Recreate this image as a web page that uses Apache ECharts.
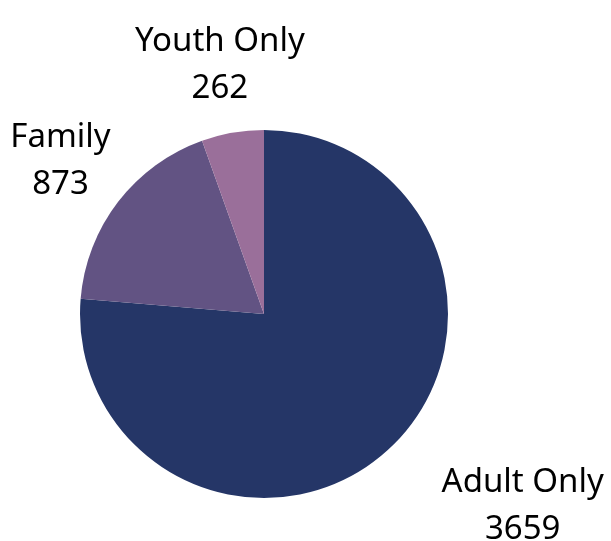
<!DOCTYPE html>
<html>
<head>
<meta charset="utf-8">
<script src="https://cdn.jsdelivr.net/npm/echarts@6/dist/echarts.min.js"></script>
<style>html,body{margin:0;padding:0;background:#fff}#c{width:611px;height:541px}</style>
</head>
<body>
<div id="c"></div>
<script>
const categories = ['Adult Only', 'Family', 'Youth Only'];
const values = [3659, 873, 262];
const colors = ['#253667', '#625383', '#9a6f9a'];

const chart = echarts.init(document.getElementById('c'), null, {renderer: 'canvas'});
chart.setOption({
  animation: false,
  series: [{
    type: 'pie',
    center: [264, 314],
    radius: 184,
    startAngle: 90,
    clockwise: true,
    avoidLabelOverlap: false,
    data: categories.map((c, i) => ({name: c, value: values[i], itemStyle: {color: colors[i]}})),
    label: {
      show: true,
      position: 'outside',
      formatter: '{b}\n{c}',
      fontFamily: 'Noto Sans',
      fontSize: 33,
      lineHeight: 47,
      color: '#000',
      distanceToLabelLine: 0
    },
    labelLine: {show: false, length: 74, length2: 0},
    labelLayout: function (p) {
      if (p.dataIndex === 0) return {align: 'center', dx: 84, dy: 2};
      if (p.dataIndex === 1) return {align: 'center', dx: 1, dy: 4};
      return {align: 'center', dy: 5};
    }
  }]
});
</script>
</body>
</html>
